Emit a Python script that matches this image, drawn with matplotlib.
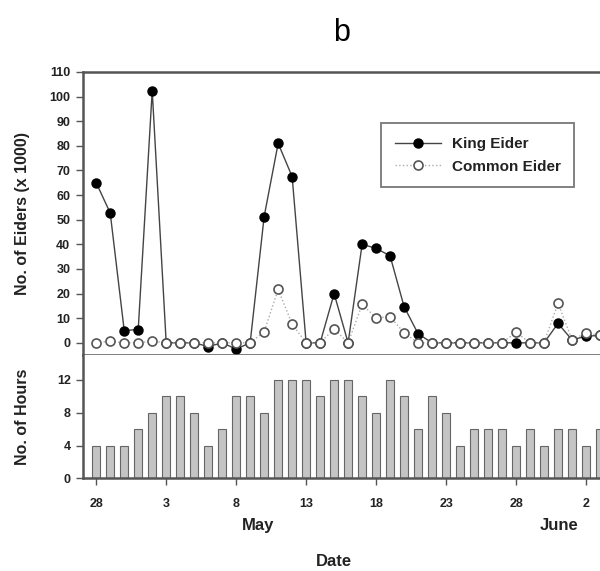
import matplotlib
matplotlib.use("Agg")
import matplotlib.pyplot as plt

plt.rcParams['font.family'] = ['Liberation Sans', 'DejaVu Sans']

# day 0 = 28 April
days = list(range(37))
king_eider = [65, 52.7, 5, 5.4, 102.4, 0, 0, 0, -1.5, 0, -2.5, 0, 51.3, 81, 67.5,
              0, 0, 20, 0, 40, 38.4, 35.3, 14.7, 3.7, 0, 0, 0, 0, 0, 0, 0, 0, 0,
              7.9, 1.2, 2.7, 3]
common_eider = [0, 0.7, 0, 0, 0.7, 0, 0, 0, 0, 0, 0, 0, 4.5, 21.7, 7.6,
                0, 0, 5.7, 0, 15.6, 10.2, 10.6, 4.1, 0, 0, 0, 0, 0, 0, 0, 4.3, 0, 0,
                16.1, 1.3, 3.9, 3.1]
hours = [4, 4, 4, 6, 8, 10, 10, 8, 4, 6, 10, 10, 8, 12, 12, 12, 10, 12, 12, 10, 8,
         12, 10, 6, 10, 8, 4, 6, 6, 6, 4, 6, 4, 6, 6, 4, 6]
tick_days = [0, 5, 10, 15, 20, 25, 30, 35]
tick_labels = ["28", "3", "8", "13", "18", "23", "28", "2"]

spine_col = "#555555"
text_col = "#222222"

fig = plt.figure(figsize=(6.0, 5.71), dpi=100)
ax1 = fig.add_axes([0.138, 0.378, 0.862, 0.496])
ax2 = fig.add_axes([0.138, 0.162, 0.862, 0.216])

ax1.plot(days, king_eider, color="#444444", lw=1.0, marker="o", ms=6.5,
         mfc="black", mec="black", label="King Eider", zorder=2)
ax1.plot(days, common_eider, color="#aaaaaa", lw=1.0, ls=":", marker="o", ms=6.5,
         mfc="white", mec="#555555", mew=1.2, label="Common Eider", zorder=3)
ax1.set_xlim(-0.96, 36.0)
ax1.set_ylim(-5, 110)
ax1.set_yticks(range(0, 111, 10))
ax1.set_xticks([])
ax1.spines['right'].set_visible(False)
for s in ['top', 'left', 'bottom']:
    ax1.spines[s].set_color(spine_col)
    ax1.spines[s].set_linewidth(1.8)
ax1.tick_params(axis='y', direction='out', length=5, width=1, colors=spine_col,
                labelcolor=text_col, labelsize=9, pad=4)
for t in ax1.get_yticklabels():
    t.set_fontweight('bold')
ax1.set_ylabel("No. of Eiders (x 1000)", fontsize=11.5, fontweight='bold',
               color=text_col)
ax1.yaxis.set_label_coords(-0.102, 0.5)
leg = ax1.legend(loc='upper right', bbox_to_anchor=(0.965, 0.845), frameon=True,
                 fancybox=False, edgecolor=spine_col,
                 prop={'weight': 'bold', 'size': 11}, handlelength=3.0,
                 borderpad=0.9, labelspacing=0.55, handletextpad=0.7)
leg.get_frame().set_linewidth(1.3)
for t in leg.get_texts():
    t.set_color(text_col)
ax1.set_title("b", fontsize=22, pad=22)

ax2.bar(days, hours, width=0.6, color="#c4c4c4", edgecolor="#666666", lw=0.8)
ax2.set_xlim(-0.96, 36.0)
ax2.set_ylim(0, 15)
ax2.set_yticks([0, 4, 8, 12])
ax2.set_xticks(tick_days)
ax2.set_xticklabels(tick_labels)
ax2.spines['right'].set_visible(False)
ax2.spines['top'].set_visible(False)
for s in ['left', 'bottom']:
    ax2.spines[s].set_color(spine_col)
    ax2.spines[s].set_linewidth(1.8)
ax2.tick_params(direction='out', length=5, width=1, colors=spine_col,
                labelcolor=text_col, labelsize=9)
ax2.tick_params(axis='x', pad=9)
for t in ax2.get_yticklabels() + ax2.get_xticklabels():
    t.set_fontweight('bold')
ax2.set_ylabel("No. of Hours", fontsize=11.5, fontweight='bold', color=text_col)
ax2.yaxis.set_label_coords(-0.102, 0.5)
ax2.text(11.6, -0.38, "May", transform=ax2.get_xaxis_transform(), ha='center',
         va='center', fontsize=12, fontweight='bold', color=text_col)
ax2.text(33.1, -0.38, "June", transform=ax2.get_xaxis_transform(), ha='center',
         va='center', fontsize=12, fontweight='bold', color=text_col)
ax2.text(17.0, -0.67, "Date", transform=ax2.get_xaxis_transform(), ha='center',
         va='center', fontsize=12, fontweight='bold', color=text_col)

fig.savefig("out.png", dpi=100)
